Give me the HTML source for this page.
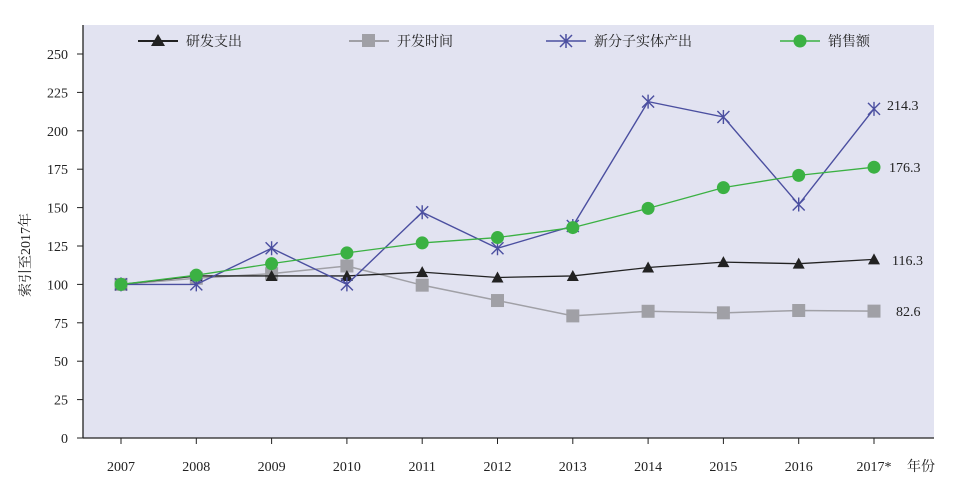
<!DOCTYPE html>
<html><head><meta charset="utf-8"><style>
body{margin:0;background:#fff}
svg text{font-family:"Liberation Serif","Noto Serif CJK SC",serif;fill:#222}
</style></head><body>
<svg id="c" width="962" height="496" xmlns="http://www.w3.org/2000/svg">
<rect x="83" y="25" width="851" height="413" fill="#e2e3f1"/>
<line x1="83" y1="25" x2="83" y2="438" stroke="#222" stroke-width="1.3"/>
<line x1="83" y1="438" x2="934" y2="438" stroke="#222" stroke-width="1.3"/>
<g id="ax"></g>
<g id="ser"></g>
<text x="30" y="255" font-size="14" text-anchor="middle" transform="rotate(-90 30 255)">索引至2017年</text>
<text x="907" y="471" font-size="14">年份</text>
<!-- legend -->
<line x1="138" y1="41" x2="178" y2="41" stroke="#222" stroke-width="2"/><polygon points="158,34 165,46 151,46" fill="#222"/>
<text x="186" y="46" font-size="14">研发支出</text>
<line x1="349" y1="41" x2="389" y2="41" stroke="#a0a0a6" stroke-width="2"/><rect x="362" y="34" width="13" height="13" fill="#a0a0a6"/>
<text x="397" y="46" font-size="14">开发时间</text>
<line x1="546" y1="41" x2="586" y2="41" stroke="#4b4fa0" stroke-width="1.5"/><path d="M560,35 L572,47 M572,35 L560,47 M566,34 L566,48" stroke="#4b4fa0" stroke-width="1.5"/>
<text x="594" y="46" font-size="14">新分子实体产出</text>
<line x1="780" y1="41" x2="820" y2="41" stroke="#3bb143" stroke-width="1.5"/><circle cx="800" cy="41" r="6.5" fill="#3bb143"/>
<text x="828" y="46" font-size="14">销售额</text>
<text x="892" y="265" font-size="14">116.3</text>
<text x="896" y="316" font-size="14">82.6</text>
<text x="887" y="110" font-size="14">214.3</text>
<text x="889" y="172" font-size="14">176.3</text>
</svg>
<script>
var NS="http://www.w3.org/2000/svg";
function Y(v){return 438-v*1.536}
function X(i){return 121+i*75.3}
function el(p,t,a,txt){var e=document.createElementNS(NS,t);for(var k in a)e.setAttribute(k,a[k]);if(txt)e.textContent=txt;p.appendChild(e);return e}
var ax=document.getElementById('ax'),s=document.getElementById('ser');
for(var v=0;v<=250;v+=25){var y=Y(v);el(ax,'line',{x1:77,y1:y,x2:83,y2:y,stroke:'#222'});el(ax,'text',{x:68,y:y+5,'font-size':14,'text-anchor':'end'},''+v)}
var yrs=['2007','2008','2009','2010','2011','2012','2013','2014','2015','2016','2017*'];
yrs.forEach(function(t,i){el(ax,'line',{x1:X(i),y1:438,x2:X(i),y2:444,stroke:'#222'});el(ax,'text',{x:X(i),y:471,'font-size':14,'text-anchor':'middle'},t)});
var rd=[100,105.5,105.5,105.5,108,104.5,105.5,111,114.5,113.5,116.3];
var tm=[100,104,107,112,99.5,89.5,79.5,82.5,81.5,83,82.6];
var nm=[100,100,123.5,100,147,123.5,138,219,209,152,214.3];
var sl=[100,106,113.5,120.5,127,130.5,137,149.5,163,171,176.3];
function line(d,c,w){el(s,'polyline',{points:d.map(function(v,i){return X(i)+','+Y(v)}).join(' '),fill:'none',stroke:c,'stroke-width':w})}
line(tm,'#a0a0a6',1.5);tm.forEach(function(v,i){el(s,'rect',{x:X(i)-6.5,y:Y(v)-6.5,width:13,height:13,fill:'#a0a0a6'})});
line(rd,'#222',1.3);rd.forEach(function(v,i){var x=X(i),y=Y(v);el(s,'polygon',{points:(x)+','+(y-6)+' '+(x+6)+','+(y+5)+' '+(x-6)+','+(y+5),fill:'#222'})});
line(nm,'#4b4fa0',1.4);nm.forEach(function(v,i){var x=X(i),y=Y(v);el(s,'path',{d:'M'+(x-6)+','+(y-6)+'L'+(x+6)+','+(y+6)+'M'+(x+6)+','+(y-6)+'L'+(x-6)+','+(y+6)+'M'+x+','+(y-7)+'L'+x+','+(y+7),stroke:'#4b4fa0','stroke-width':1.4})});
line(sl,'#3bb143',1.3);sl.forEach(function(v,i){el(s,'circle',{cx:X(i),cy:Y(v),r:6.5,fill:'#3bb143'})});
</script>
</body></html>
